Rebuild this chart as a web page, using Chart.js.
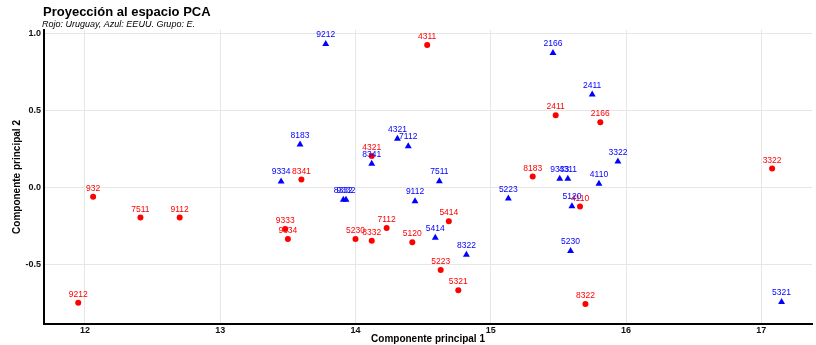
<!DOCTYPE html>
<html>
<head>
<meta charset="utf-8">
<script src="https://cdn.jsdelivr.net/npm/chart.js@4"></script>
<style>
  html, body { margin: 0; padding: 0; background: #fff; }
  #caja { width: 816px; height: 345px; position: relative; }
</style>
</head>
<body>
<div id="caja"><canvas id="grafico"></canvas></div>
<script>
// Uruguay (rojo)
const uyEtiquetas = ["9212", "932", "7511", "9112", "9333", "9334", "8341", "4321", "5230", "8332", "7112",
    "5120", "5414", "5223", "5321", "4311", "2411", "2166", "8183", "4110", "8322", "3322"];
const uyX = [11.95, 12.06, 12.41, 12.70, 13.48, 13.50, 13.60, 14.12, 14.00, 14.12, 14.23,
    14.42, 14.69, 14.63, 14.76, 14.53, 15.48, 15.81, 15.31, 15.66, 15.70, 17.08];
const uyY = [-0.75, -0.06, -0.196, -0.196, -0.27, -0.335, 0.052, 0.205, -0.335, -0.346, -0.264,
    -0.357, -0.22, -0.538, -0.669, 0.928, 0.47, 0.425, 0.072, -0.124, -0.758, 0.124];

// EEUU (azul)
const euEtiquetas = ["9212", "8183", "9334", "4321", "7112", "8341", "7511", "8332", "9332", "9112", "5414",
    "8322", "5223", "2166", "2411", "9333", "4311", "4110", "3322", "5120", "5230", "5321"];
const euX = [13.78, 13.59, 13.45, 14.31, 14.39, 14.12, 14.62, 13.91, 13.93, 14.44, 14.59,
    14.82, 15.13, 15.46, 15.75, 15.51, 15.57, 15.80, 15.94, 15.60, 15.59, 17.15];
const euY = [0.935, 0.28, 0.04, 0.318, 0.268, 0.155, 0.041, -0.08, -0.08, -0.09, -0.327,
    -0.438, -0.072, 0.876, 0.606, 0.057, 0.057, 0.024, 0.17, -0.122, -0.414, -0.745];

const ticksX = [12, 13, 14, 15, 16, 17];
const ticksY = [-0.5, 0, 0.5, 1.0];

const titulo = "Proyección al espacio PCA";
const subtitulo = "Rojo: Uruguay, Azul: EEUU. Grupo: E.";

const fuente = "'Liberation Sans', Arial, sans-serif";

function puntos(xs, ys) {
    return xs.map((x, i) => ({ x: x, y: ys[i] }));
}

// etiquetas de cada punto
const etiquetasPlugin = {
    id: "etiquetas",
    afterDatasetsDraw(chart) {
        const ctx = chart.ctx;
        ctx.save();
        ctx.font = "8.5px " + fuente;
        ctx.textAlign = "center";
        ctx.textBaseline = "bottom";
        chart.data.datasets.forEach((ds, i) => {
            const meta = chart.getDatasetMeta(i);
            ctx.fillStyle = ds.borderColor;
            meta.data.forEach((el, j) => {
                ctx.fillText(ds.etiquetas[j], el.x, el.y - (ds.pointStyle === "triangle" ? 5 : 4));
            });
        });
        ctx.restore();
    }
};

// titulo y subtitulo arriba a la izquierda
const titulosPlugin = {
    id: "titulos",
    afterDraw(chart) {
        const ctx = chart.ctx;
        ctx.save();
        ctx.fillStyle = "#000";
        ctx.textAlign = "left";
        ctx.textBaseline = "alphabetic";
        ctx.font = "bold 13px " + fuente;
        ctx.fillText(titulo, 43, 16);
        ctx.font = "italic 9px " + fuente;
        ctx.fillText(subtitulo, 42, 27);
        ctx.restore();
    }
};

new Chart(document.getElementById("grafico"), {
    type: "scatter",
    data: {
        datasets: [{
            label: "Uruguay",
            etiquetas: uyEtiquetas,
            data: puntos(uyX, uyY),
            pointStyle: "circle",
            pointRadius: 3,
            backgroundColor: "#ff0000",
            borderColor: "#ff0000",
            borderWidth: 0
        }, {
            label: "EEUU",
            etiquetas: euEtiquetas,
            data: puntos(euX, euY),
            pointStyle: "triangle",
            pointRadius: 4,
            backgroundColor: "#0000ff",
            borderColor: "#0000ff",
            borderWidth: 0
        }]
    },
    options: {
        responsive: true,
        maintainAspectRatio: false,
        animation: false,
        layout: {
            padding: { top: 30, right: 0, left: 11, bottom: 0 }
        },
        plugins: {
            legend: { display: false },
            tooltip: { enabled: false }
        },
        scales: {
            x: {
                type: "linear",
                min: 11.697,
                max: 17.375,
                afterBuildTicks: axis => { axis.ticks = ticksX.map(v => ({ value: v })); },
                afterFit: axis => { axis.height = 21; },
                grid: { color: "#e6e6e6", lineWidth: 1, drawTicks: false },
                border: { color: "#000", width: 2 },
                ticks: {
                    color: "#111",
                    padding: 1,
                    maxRotation: 0,
                    font: { size: 9, weight: "bold", family: fuente },
                    callback: v => String(v)
                },
                title: {
                    display: true,
                    text: "Componente principal 1",
                    color: "#000",
                    padding: 0,
                    font: { size: 10, weight: "bold", family: fuente }
                }
            },
            y: {
                type: "linear",
                min: -0.889,
                max: 1.026,
                afterBuildTicks: axis => { axis.ticks = ticksY.map(v => ({ value: v })); },
                afterFit: axis => { axis.width = 33; },
                grid: { color: "#e6e6e6", lineWidth: 1, drawTicks: false },
                border: { color: "#000", width: 2 },
                ticks: {
                    color: "#111",
                    padding: 3,
                    font: { size: 9, weight: "bold", family: fuente },
                    callback: v => v.toFixed(1)
                },
                title: {
                    display: true,
                    text: "Componente principal 2",
                    color: "#000",
                    padding: { top: 0, bottom: 4 },
                    font: { size: 10, weight: "bold", family: fuente }
                }
            }
        }
    },
    plugins: [etiquetasPlugin, titulosPlugin]
});
</script>
</body>
</html>
